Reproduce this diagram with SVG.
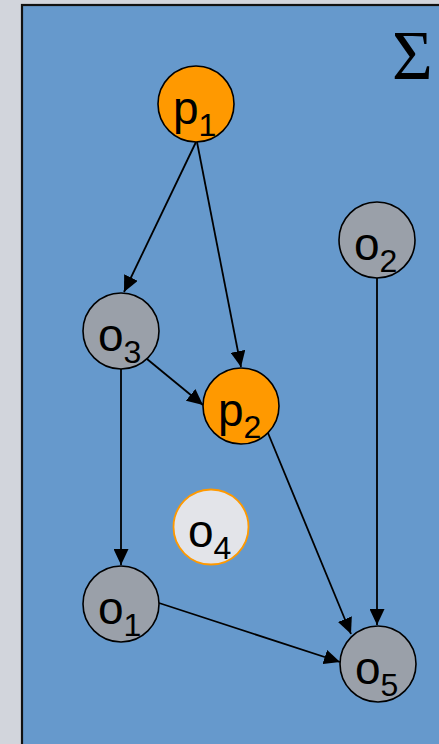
<svg xmlns="http://www.w3.org/2000/svg" width="439" height="744" viewBox="0 0 439 744">
<style>
.node{stroke:#000;stroke-width:1.6}
.o{fill:#9aa0a9}
.p{fill:#ff9900}
.lbl{font-family:"Liberation Sans",Arial,sans-serif;font-size:46px;fill:#000}
.sub{font-size:32px}
.edge{stroke:#000;stroke-width:1.8;fill:none;marker-end:url(#ah)}
</style>
<defs>
<marker id="ah" markerUnits="userSpaceOnUse" markerWidth="16" markerHeight="15" refX="16" refY="7.5" orient="auto">
<path d="M0,0 L16,7.5 L0,15 z" fill="#000"/>
</marker>
</defs>
<rect x="0" y="0" width="439" height="744" fill="#d2d5dc"/>
<rect x="22" y="5" width="430" height="760" fill="#6699cc" stroke="#111" stroke-width="2.2"/>
<text x="392" y="79" font-family="'Liberation Serif','Times New Roman',serif" font-size="70" fill="#000">Σ</text>
<g id="connectors">
<line class="edge" x1="196" y1="142" x2="124" y2="292"/>
<line class="edge" x1="197" y1="142" x2="241" y2="367"/>
<line class="edge" x1="147" y1="359" x2="203" y2="405"/>
<line class="edge" x1="121" y1="369" x2="121" y2="565"/>
<line class="edge" x1="268" y1="433" x2="351" y2="634"/>
<line class="edge" x1="377" y1="278" x2="377" y2="625"/>
<line class="edge" x1="159" y1="603" x2="340" y2="662"/>
</g>
<g id="p1"><circle class="node p" cx="196" cy="104" r="38"/><text class="lbl" x="173" y="124">p<tspan class="sub" dy="12">1</tspan></text></g>
<g id="o2"><circle class="node o" cx="377" cy="240" r="38"/><text class="lbl" x="354" y="260">o<tspan class="sub" dy="12">2</tspan></text></g>
<g id="o3"><circle class="node o" cx="121" cy="331" r="38"/><text class="lbl" x="98" y="351">o<tspan class="sub" dy="12">3</tspan></text></g>
<g id="p2"><circle class="node p" cx="241" cy="406" r="38"/><text class="lbl" x="218" y="426">p<tspan class="sub" dy="12">2</tspan></text></g>
<g id="o4"><circle cx="211" cy="527" r="37.5" fill="#e3e4e9" stroke="#ff9900" stroke-width="1.8"/><text class="lbl" x="188" y="547">o<tspan class="sub" dy="12">4</tspan></text></g>
<g id="o1"><circle class="node o" cx="121" cy="604" r="38"/><text class="lbl" x="98" y="624">o<tspan class="sub" dy="12">1</tspan></text></g>
<g id="o5"><circle class="node o" cx="378" cy="664" r="38"/><text class="lbl" x="355" y="684">o<tspan class="sub" dy="12">5</tspan></text></g>
</svg>
